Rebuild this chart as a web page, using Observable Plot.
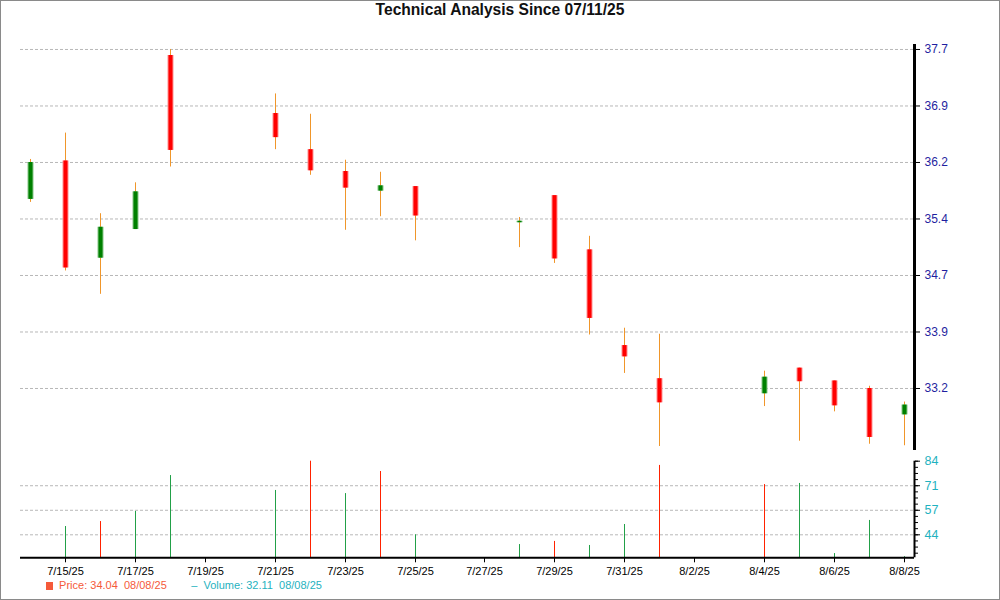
<!DOCTYPE html>
<html>
<head>
<meta charset="utf-8">
<script src="https://cdn.jsdelivr.net/npm/d3@7"></script>
<script src="https://cdn.jsdelivr.net/npm/@observablehq/plot@0.6"></script>
<style>
  html, body { margin: 0; padding: 0; background: #fff; }
  #wrap { position: relative; width: 1000px; height: 600px; overflow: hidden; font-family: "Liberation Sans", Arial, sans-serif; }
  #border { position: absolute; left: 0; top: 0; width: 1000px; height: 600px; box-sizing: border-box; border: 1px solid #8a8a8a; pointer-events: none; }
  #title { position: absolute; top: 0px; left: 0; width: 1000px; text-align: center; font-weight: bold; font-size: 15.6px; line-height: 20px; color: #111; }
  #price, #volume { position: absolute; left: 0; }
  #price { top: 0; }
  #volume { top: 440px; }
  #legend { position: absolute; left: 46px; top: 579px; font-size: 11px; white-space: pre; }
  #legend span.mk { display: inline-block; }
</style>
</head>
<body>
<div id="wrap">
  <div id="title"></div>
  <div id="price"></div>
  <div id="volume"></div>
  <div id="legend"></div>
  <div id="border"></div>
</div>
<script>
// ---- data ----
const titleText = "Technical Analysis Since 07/11/25";
const dates = ["2025-07-14","2025-07-15","2025-07-16","2025-07-17","2025-07-18","2025-07-21","2025-07-22","2025-07-23","2025-07-24","2025-07-25","2025-07-28","2025-07-29","2025-07-30","2025-07-31","2025-08-01","2025-08-04","2025-08-05","2025-08-06","2025-08-07","2025-08-08"];
const openP  = [35.71, 36.22, 34.93, 35.31, 37.62, 36.85, 36.37, 36.08, 35.82, 35.88, 35.40, 35.76, 35.04, 33.77, 33.33, 33.13, 33.47, 33.30, 33.20, 32.85];
const highP  = [36.24, 36.59, 35.52, 35.93, 37.70, 37.11, 36.84, 36.23, 36.07, 35.88, 35.47, 35.76, 35.22, 34.00, 33.92, 33.43, 33.47, 33.30, 33.23, 33.02];
const lowP   = [35.67, 34.76, 34.45, 35.31, 36.14, 36.37, 36.03, 35.30, 35.48, 35.16, 35.07, 34.86, 33.91, 33.40, 32.43, 32.96, 32.50, 32.89, 32.46, 32.44];
const closeP = [36.20, 34.80, 35.34, 35.81, 36.36, 36.53, 36.09, 35.86, 35.89, 35.49, 35.42, 34.92, 34.13, 33.62, 33.01, 33.35, 33.29, 32.97, 32.55, 32.98];
const volume = [31.5, 48.5, 51.2, 56.7, 76.2, 68.1, 84.0, 66.4, 78.4, 44.0, 38.7, 40.4, 38.2, 49.6, 81.7, 71.3, 71.9, 33.8, 51.8, 32.11];
const volDir = ["up","up","down","up","up","up","down","up","down","up","up","down","up","up","down","down","up","up","up","up"];

const priceDomain = [32.377, 37.766];
const priceTicks = [33.2, 33.95, 34.7, 35.45, 36.2, 36.95, 37.7];
const priceTickLabels = ["33.2", "33.9", "34.7", "35.4", "36.2", "36.9", "37.7"];

const volDomain = [31.5, 84];
const volTicks = [44, 57.333, 70.667, 84];
const volTickLabels = ["44", "57", "71", "84"];
const volGridTicks = [44, 57.333, 70.667];

const xTickDates = ["2025-07-15","2025-07-17","2025-07-19","2025-07-21","2025-07-23","2025-07-25","2025-07-27","2025-07-29","2025-07-31","2025-08-02","2025-08-04","2025-08-06","2025-08-08"];

const legendPrice = "Price: 34.04  08/08/25";
const legendVolume = "Volume: 32.11  08/08/25";

// ---- colours ----
const C = {
  grid: "#b8b8b8", wick: "#f0962a",
  upBody: "#008000", upEdge: "#86c686",
  downBody: "#ff0000", downEdge: "#ff9090",
  volUp: "#22a048", volDown: "#ff2200",
  priceLabel: "#1f1fa0", volLabel: "#1fb2c0",
  legendPrice: "#f55a3a", legendVol: "#1fb2c0"
};

const parse = d3.utcParse("%Y-%m-%d");
const rows = dates.map((d, i) => ({
  date: parse(d), open: openP[i], high: highP[i], low: lowP[i], close: closeP[i],
  volume: volume[i], dir: volDir[i]
}));
const DAY = 864e5;
const pad = 0.2857 * DAY;
const xDomain = [new Date(+rows[0].date - pad), new Date(+rows[rows.length - 1].date + pad)];
const xTicks = xTickDates.map(parse);

document.getElementById("title").textContent = titleText;

const font = '"Liberation Sans", Arial, sans-serif';

const pricePlot = Plot.plot({
  width: 1000, height: 452,
  marginTop: 44, marginBottom: 2, marginLeft: 20, marginRight: 86,
  x: {type: "utc", domain: xDomain, axis: null, round: true},
  y: {domain: priceDomain, axis: null},
  style: {background: "transparent", fontFamily: font, overflow: "visible"},
  marks: [
    Plot.ruleY(priceTicks, {stroke: C.grid, strokeDasharray: "3,2", strokeWidth: 1}),
    Plot.ruleX(rows, {x: "date", y1: "low", y2: "high", stroke: C.wick, strokeWidth: 1}),
    Plot.ruleX(rows, {x: "date", y1: "open", y2: "close",
      stroke: d => d.close >= d.open ? C.upEdge : C.downEdge, strokeWidth: 6}),
    Plot.ruleX(rows, {x: "date", y1: "open", y2: "close",
      stroke: d => d.close >= d.open ? C.upBody : C.downBody, strokeWidth: 4}),
    Plot.ruleX([xDomain[1]], {stroke: "#000", strokeWidth: 3}),
    Plot.axisY(priceTicks, {anchor: "right", label: null, tickSize: 5, tickPadding: 5,
      tickFormat: d => priceTickLabels[priceTicks.indexOf(d)],
      stroke: "#000", fill: C.priceLabel, fontSize: 12})
  ]
});
document.getElementById("price").appendChild(pricePlot);

const volMinor = d3.range(volDomain[1], volDomain[0], -(volTicks[1] - volTicks[0]) / 4);

const volPlot = Plot.plot({
  width: 1000, height: 140,
  marginTop: 20.7, marginBottom: 22.7, marginLeft: 20, marginRight: 86,
  x: {type: "utc", domain: xDomain, round: true, axis: null},
  y: {domain: volDomain, axis: null},
  style: {background: "transparent", fontFamily: font, overflow: "visible"},
  marks: [
    Plot.ruleY(volGridTicks, {stroke: C.grid, strokeDasharray: "3,2", strokeWidth: 1}),
    Plot.ruleX(rows, {x: "date", y1: d => volDomain[0], y2: "volume",
      stroke: d => d.dir === "up" ? C.volUp : C.volDown, strokeWidth: 1}),
    Plot.ruleY([volDomain[0]], {stroke: "#000", strokeWidth: 2}),
    Plot.ruleX([xDomain[1]], {y1: d => volDomain[0], y2: d => volDomain[1], stroke: "#000", strokeWidth: 2}),
    Plot.axisY(volMinor, {anchor: "right", label: null, tickSize: 3, tickFormat: () => "", stroke: "#000"}),
    Plot.axisY(volTicks, {anchor: "right", label: null, tickSize: 5, tickPadding: 5,
      tickFormat: d => volTickLabels[volTicks.indexOf(d)],
      stroke: "#000", fill: C.volLabel, fontSize: 12.5}),
    Plot.axisX(xTicks, {anchor: "bottom", label: null, tickSize: 5, tickPadding: 4,
      tickFormat: d3.utcFormat("%-m/%-d/%y"), stroke: "#000", fill: "#000", fontSize: 11})
  ]
});
document.getElementById("volume").appendChild(volPlot);

const lg = document.getElementById("legend");
lg.innerHTML =
  `<span class="mk" style="width:7px;height:8px;background:${C.legendPrice};vertical-align:-1px;"></span>` +
  `<span style="color:${C.legendPrice}">  ${legendPrice}</span>` +
  `<span style="color:${C.legendVol}">        –  ${legendVolume}</span>`;
</script>
</body>
</html>
